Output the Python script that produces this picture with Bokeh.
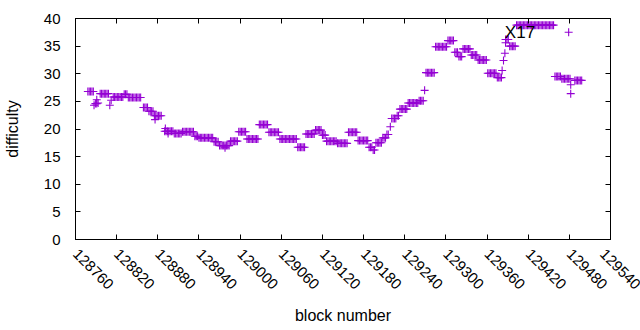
import math
from bokeh.plotting import figure
from bokeh.models import (ColumnDataSource, FixedTicker, LinearAxis, Range1d, Label,
                          BasicTickFormatter)
from bokeh.embed import file_html
from bokeh.resources import INLINE

# ---------------- data ----------------
x_ticks = [128760, 128820, 128880, 128940, 129000, 129060, 129120, 129180,
           129240, 129300, 129360, 129420, 129480, 129540]
y_ticks = [0, 5, 10, 15, 20, 25, 30, 35, 40]

block = [
    128778, 128780, 128782, 128784, 128786,
    128787, 128789, 128791, 128791, 128793,
    128796, 128798, 128800, 128802, 128804, 128806, 128808,
    128810, 128812,
    128815, 128817, 128819, 128821, 128823, 128825, 128827, 128829,
    128831, 128833, 128835,
    128837, 128839, 128841, 128843, 128845, 128847, 128849, 128851, 128853, 128855,
    128859, 128861, 128863, 128865,
    128867, 128869, 128871, 128873,
    128875, 128876, 128877, 128879, 128881, 128883, 128885,
    128890, 128891, 128892, 128894, 128895, 128896, 128898, 128900, 128902,
    128904, 128906, 128908, 128910, 128912, 128914,
    128916, 128918, 128920, 128922, 128924, 128926, 128928, 128930, 128932,
    128934, 128936, 128938,
    128940, 128942, 128944, 128946, 128948, 128950, 128952, 128954, 128956, 128958, 128960,
    128962, 128964, 128966, 128968,
    128970, 128972, 128974, 128976, 128978, 128978, 128980, 128982, 128984,
    128986, 128988, 128990, 128992, 128994, 128996,
    128998, 129000, 129002, 129004, 129006, 129008,
    129010, 129012, 129014, 129016, 129018, 129020, 129022, 129024, 129026,
    129028, 129030, 129032, 129034, 129036, 129038, 129040,
    129042, 129044, 129046, 129048, 129050, 129052, 129054, 129056,
    129058, 129060, 129062, 129064, 129066, 129068, 129070, 129072, 129074, 129076, 129078, 129080, 129082,
    129084, 129086, 129088, 129090, 129092, 129094,
    129096, 129098, 129100, 129102, 129104, 129106, 129108,
    129110, 129112, 129114, 129116, 129118,
    129120, 129122, 129124,
    129126, 129128, 129130, 129132, 129134, 129136, 129138, 129140,
    129142, 129144, 129146, 129148, 129150, 129152, 129154, 129156,
    129158, 129160, 129162, 129164, 129166, 129168, 129170,
    129172, 129174, 129176, 129178, 129180, 129182, 129184, 129186,
    129188, 129190, 129192, 129194, 129196,
    129198, 129200, 129202, 129204, 129206,
    129208, 129210, 129212, 129214, 129216,
    129219,
    129221, 129223, 129225, 129227,
    129229, 129231,
    129233, 129235, 129237, 129239, 129241, 129243,
    129245, 129247, 129249, 129251, 129253, 129255, 129257, 129259,
    129261, 129263, 129265, 129267,
    129269,
    129271, 129273, 129275, 129277, 129279, 129281, 129283,
    129285, 129287, 129289, 129291, 129293, 129295, 129297, 129299, 129301,
    129303, 129305, 129307, 129309, 129311,
    129313, 129315, 129317, 129319, 129321, 129323,
    129325, 129327, 129329, 129331, 129333, 129335,
    129337, 129339, 129341, 129343, 129345,
    129347, 129349, 129351, 129353, 129355, 129357, 129359,
    129361, 129363, 129365, 129367, 129369, 129371, 129373,
    129375, 129377, 129379, 129381,
    129382, 129384, 129386, 129387,
    129387, 129389, 129391,
    129393, 129395, 129397, 129399, 129401,
    129403, 129405, 129407, 129409, 129411, 129413, 129415, 129417, 129419, 129421,
    129423, 129425, 129427, 129429, 129431, 129433, 129435, 129437, 129439, 129441,
    129443, 129445, 129447, 129449, 129451, 129453, 129455, 129457,
    129459, 129461, 129463, 129465, 129467,
    129469, 129471, 129473, 129475, 129477, 129479, 129481,
    129479,
    129482, 129482,
    129488, 129490, 129492, 129494, 129496, 129498,
]

difficulty = [
    26.8, 26.8, 26.8, 26.8, 26.8,
    24.3, 24.6, 25.3, 24.6, 24.7,
    26.4, 26.4, 26.4, 26.4, 26.4, 26.4, 26.4,
    24.3, 25.2,
    25.8, 25.8, 25.8, 25.8, 25.8, 25.8, 25.8, 25.8,
    26.3, 26.3, 26.3,
    25.7, 25.7, 25.7, 25.7, 25.7, 25.7, 25.7, 25.7, 25.7, 25.7,
    23.9, 23.9, 23.9, 23.9,
    23.2, 23.2, 23.2, 23.2,
    22.4, 21.7, 22.4, 22.4, 22.4, 22.4, 22.4,
    19.6, 20.1, 19.6, 19.6, 19.2, 19.6, 19.6, 19.6, 19.6,
    19.2, 19.2, 19.2, 19.2, 19.2, 19.2,
    19.5, 19.5, 19.5, 19.5, 19.5, 19.5, 19.5, 19.5, 19.5,
    18.7, 18.7, 18.7,
    18.4, 18.4, 18.4, 18.4, 18.4, 18.4, 18.4, 18.4, 18.4, 18.4, 18.4,
    17.7, 17.7, 17.7, 17.7,
    17.0, 17.0, 17.0, 17.0, 17.0, 16.6, 17.0, 17.0, 17.0,
    17.8, 17.8, 17.8, 17.8, 17.8, 17.8,
    19.5, 19.5, 19.5, 19.5, 19.5, 19.5,
    18.2, 18.2, 18.2, 18.2, 18.2, 18.2, 18.2, 18.2, 18.2,
    20.8, 20.8, 20.8, 20.8, 20.8, 20.8, 20.8,
    19.4, 19.4, 19.4, 19.4, 19.4, 19.4, 19.4, 19.4,
    18.2, 18.2, 18.2, 18.2, 18.2, 18.2, 18.2, 18.2, 18.2, 18.2, 18.2, 18.2, 18.2,
    16.7, 16.7, 16.7, 16.7, 16.7, 16.7,
    19.1, 19.1, 19.1, 19.1, 19.1, 19.1, 19.1,
    19.8, 19.8, 19.8, 19.8, 19.8,
    18.9, 18.9, 18.9,
    17.8, 17.8, 17.8, 17.8, 17.8, 17.8, 17.8, 17.8,
    17.4, 17.4, 17.4, 17.4, 17.4, 17.4, 17.4, 17.4,
    19.4, 19.4, 19.4, 19.4, 19.4, 19.4, 19.4,
    17.9, 17.9, 17.9, 17.9, 17.9, 17.9, 17.9, 17.9,
    16.7, 16.7, 16.7, 16.2, 16.2,
    17.5, 17.5, 17.5, 17.5, 17.5,
    18.4, 18.4, 18.4, 19.0, 19.0,
    20.4,
    21.9, 21.9, 21.9, 21.9,
    22.4, 22.4,
    23.6, 23.6, 23.6, 23.6, 23.6, 23.6,
    24.7, 24.7, 24.7, 24.7, 24.7, 24.7, 24.7, 24.7,
    25.1, 25.1, 25.1, 25.1,
    27.0,
    30.2, 30.2, 30.2, 30.2, 30.2, 30.2, 30.2,
    34.9, 34.9, 34.9, 34.9, 34.9, 34.9, 34.9, 34.9, 34.9,
    36.0, 36.0, 36.0, 36.0, 36.0,
    33.9, 33.9, 33.9, 33.1, 33.1, 33.1,
    34.5, 34.5, 34.5, 34.5, 34.5, 34.5,
    33.4, 33.4, 33.4, 33.4, 33.4,
    32.5, 32.5, 32.5, 32.5, 32.5, 32.5, 32.5,
    30.1, 30.1, 30.1, 30.1, 30.1, 30.1, 30.1,
    29.3, 29.3, 29.3, 29.3,
    30.6, 32.4, 33.7, 35.6,
    36.2, 36.2, 36.2,
    35.0, 35.0, 35.0, 35.0, 35.0,
    38.8, 38.8, 38.8, 38.8, 38.8, 38.8, 38.8, 38.8, 38.8, 38.8,
    38.8, 38.8, 38.8, 38.8, 38.8, 38.8, 38.8, 38.8, 38.8, 38.8,
    38.8, 38.8, 38.8, 38.8, 38.8, 38.8, 38.8, 38.8,
    29.5, 29.5, 29.5, 29.5, 29.5,
    29.1, 29.1, 29.1, 29.1, 29.1, 29.1, 29.1,
    37.5,
    28.0, 26.4,
    28.8, 28.8, 28.8, 28.8, 28.8, 28.8,
]

label_text = "X17"
label_block = 129386
label_difficulty = 37.4

# ---------------- figure ----------------
FONT = "Liberation Sans"
PURPLE = "#9400D3"

p = figure(frame_width=535, frame_height=221, output_backend="svg",
           toolbar_location=None,
           x_range=Range1d(128760, 129540), y_range=Range1d(0, 40),
           min_border_left=74, min_border_right=31, min_border_top=18,
           min_border_bottom=91)
p.xgrid.visible = False
p.ygrid.visible = False
p.outline_line_color = "black"
p.outline_line_alpha = 1.0
p.outline_line_width = 1
p.background_fill_color = "white"
p.border_fill_color = "white"

src = ColumnDataSource(data=dict(block=block, difficulty=difficulty))
p.scatter(x="block", y="difficulty", source=src, marker="cross", size=8,
          line_color=PURPLE, line_width=1.1)


def style_axis(ax, ticks):
    ax.ticker = FixedTicker(ticks=ticks)
    ax.formatter = BasicTickFormatter(use_scientific=False)
    ax.major_tick_in = 5
    ax.major_tick_out = 0
    ax.minor_tick_in = 0
    ax.minor_tick_out = 0
    ax.axis_line_color = "black"
    ax.major_tick_line_color = "black"
    ax.major_label_text_font = FONT
    ax.major_label_text_font_size = "15px"
    ax.major_label_text_color = "black"
    ax.axis_label_text_font = FONT
    ax.axis_label_text_font_size = "16px"
    ax.axis_label_text_font_style = "normal"
    ax.axis_label_text_color = "black"


xa = p.xaxis[0]
style_axis(xa, x_ticks)
xa.axis_label = "block number"
xa.major_label_orientation = -math.pi / 4
xa.major_label_standoff = 12
xa.axis_label_standoff = 10

ya = p.yaxis[0]
style_axis(ya, y_ticks)
ya.axis_label = "difficulty"
ya.major_label_standoff = 15
ya.axis_label_standoff = 20

top = LinearAxis()
style_axis(top, x_ticks)
top.major_label_overrides = {t: "" for t in x_ticks}
top.major_label_standoff = 0
p.add_layout(top, "above")

right = LinearAxis()
style_axis(right, y_ticks)
right.major_label_overrides = {t: "" for t in y_ticks}
right.major_label_standoff = 0
p.add_layout(right, "right")

lab = Label(x=label_block, y=label_difficulty, text=label_text,
            text_font=FONT, text_font_size="17px", text_color="black",
            text_align="left", text_baseline="middle")
p.add_layout(lab)

open("out.html", "w").write(file_html(p, INLINE))
